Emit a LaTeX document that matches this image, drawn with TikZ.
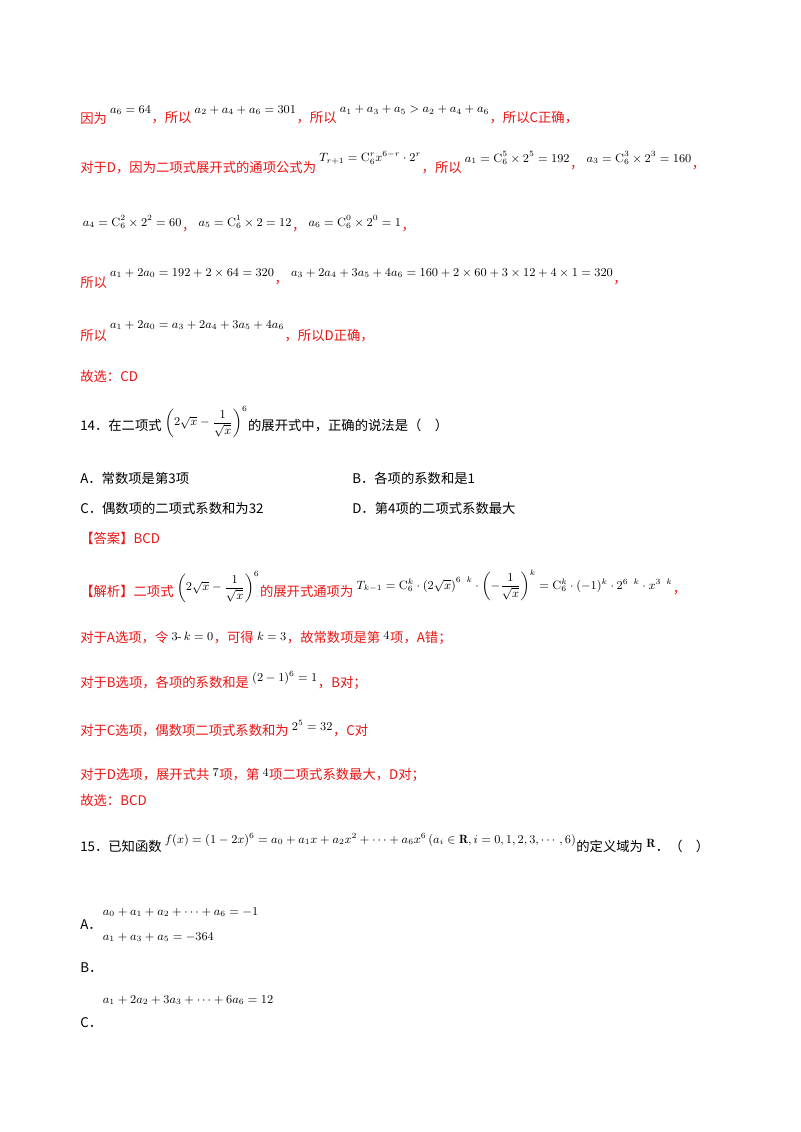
\documentclass[tikz,border=0pt]{standalone}
\usepackage{amsmath,amssymb}
\usepackage{fontspec}
\newfontfamily\cjk{Noto Sans CJK SC}
\definecolor{ans}{RGB}{235,20,20}
\begin{document}
\begin{tikzpicture}[x=0.75pt,y=-0.75pt,
  t/.style={anchor=west,inner sep=0pt,font=\cjk\fontsize{10}{12}\selectfont},
  r/.style={t,text=ans},
  m/.style={anchor=west,inner sep=0pt,font=\small,xshift=2pt}]
\useasboundingbox[fill=white] (0,0) rectangle (800,1132);
% line 1
\node[r] (l1a) at (80,118) {因为};
\node[m] (l1b) at (l1a.east |- 0,110) {$a_6=64$};
\node[r] (l1c) at (l1b.east |- 0,118) {，所以};
\node[m] (l1d) at (l1c.east |- 0,110) {$a_2+a_4+a_6=301$};
\node[r] (l1e) at (l1d.east |- 0,118) {，所以};
\node[m] (l1f) at (l1e.east |- 0,110) {$a_1+a_3+a_5>a_2+a_4+a_6$};
\node[r] (l1g) at (l1f.east |- 0,118) {，所以C正确，};
% line 2
\node[r] (l2a) at (80,168) {对于D，因为二项式展开式的通项公式为};
\node[m] (l2b) at (l2a.east |- 0,158) {$T_{r+1}=\mathrm{C}_6^r x^{6-r}\cdot 2^r$};
\node[r] (l2c) at (l2b.east |- 0,168) {，所以};
\node[m] (l2d) at (l2c.east |- 0,158) {$a_1=\mathrm{C}_6^5\times2^5=192$};
\node[r] (l2e) at (l2d.east |- 0,168) {，};
\node[m] (l2f) at (l2e.east |- 0,158) {$a_3=\mathrm{C}_6^3\times2^3=160$};
\node[r] (l2g) at (l2f.east |- 0,168) {，};
% line 3
\node[m,xshift=0pt] (l3a) at (80,222) {$a_4=\mathrm{C}_6^2\times2^2=60$};
\node[r] (l3b) at (l3a.east |- 0,230) {，};
\node[m] (l3c) at (l3b.east |- 0,222) {$a_5=\mathrm{C}_6^1\times2=12$};
\node[r] (l3d) at (l3c.east |- 0,230) {，};
\node[m] (l3e) at (l3d.east |- 0,222) {$a_6=\mathrm{C}_6^0\times2^0=1$};
\node[r] (l3f) at (l3e.east |- 0,230) {，};
% line 4
\node[r] (l4a) at (80,283) {所以};
\node[m] (l4b) at (l4a.east |- 0,273) {$a_1+2a_0=192+2\times64=320$};
\node[r] (l4c) at (l4b.east |- 0,283) {，};
\node[m] (l4d) at (l4c.east |- 0,273) {$a_3+2a_4+3a_5+4a_6=160+2\times60+3\times12+4\times1=320$};
\node[r] (l4e) at (l4d.east |- 0,283) {，};
% line 5
\node[r] (l5a) at (80,336) {所以};
\node[m] (l5b) at (l5a.east |- 0,325) {$a_1+2a_0=a_3+2a_4+3a_5+4a_6$};
\node[r] (l5c) at (l5b.east |- 0,336) {，所以D正确，};
\node[r] (l6) at (80,376) {故选：CD};
% Q14
\node[t] (q14a) at (80,425) {14．在二项式};
\node[m] (q14b) at (q14a.east |- 0,422) {$\left(2\sqrt{x}-\dfrac{1}{\sqrt{x}}\right)^{6}$};
\node[t] (q14c) at (q14b.east |- 0,425) {的展开式中，正确的说法是（\quad）};
\node[t] (oa) at (80,478) {A．常数项是第3项};
\node[t] (ob) at (352,478) {B．各项的系数和是1};
\node[t] (oc) at (80,508) {C．偶数项的二项式系数和为32};
\node[t] (od) at (352,508) {D．第4项的二项式系数最大};
\node[r] (an) at (80,538) {【答案】BCD};
\node[r] (j1) at (80,591) {【解析】二项式};
\node[m] (j2) at (j1.east |- 0,587) {$\left(2\sqrt{x}-\dfrac{1}{\sqrt{x}}\right)^{6}$};
\node[r] (j3) at (j2.east |- 0,591) {的展开式通项为};
\node[m] (j4) at (j3.east |- 0,585) {$T_{k-1}=\mathrm{C}_6^k\cdot\left(2\sqrt{x}\right)^{6\ \,k}\cdot\left(-\dfrac{1}{\sqrt{x}}\right)^{k}=\mathrm{C}_6^k\cdot(-1)^k\cdot2^{6\ \,k}\cdot x^{3\ \,k}$};
\node[r] (j5) at (j4.east |- 0,593) {，};
\node[r] (k1) at (80,638) {对于A选项，令};
\node[m] (k2) at (k1.east |- 0,636) {$3\text{-}\,k=0$};
\node[r] (k3) at (k2.east |- 0,638) {，可得};
\node[m] (k4) at (k3.east |- 0,636) {$k=3$};
\node[r] (k5) at (k4.east |- 0,638) {，故常数项是第};
\node[m] (k6) at (k5.east |- 0,636) {$4$};
\node[r] (k7) at (k6.east |- 0,638) {项，A错；};
\node[r] (b1) at (80,683) {对于B选项，各项的系数和是};
\node[m] (b2) at (b1.east |- 0,678) {$(2-1)^6=1$};
\node[r] (b3) at (b2.east |- 0,683) {，B对；};
\node[r] (c1) at (80,731) {对于C选项，偶数项二项式系数和为};
\node[m] (c2) at (c1.east |- 0,725) {$2^5=32$};
\node[r] (c3) at (c2.east |- 0,731) {，C对};
\node[r] (d1) at (80,775) {对于D选项，展开式共};
\node[m] (d2) at (d1.east |- 0,773) {$7$};
\node[r] (d3) at (d2.east |- 0,775) {项，第};
\node[m] (d4) at (d3.east |- 0,773) {$4$};
\node[r] (d5) at (d4.east |- 0,775) {项二项式系数最大，D对；};
\node[r] (g) at (80,800) {故选：BCD};
% Q15
\node[t] (q15a) at (80,846) {15．已知函数};
\node[m] (q15b) at (q15a.east |- 0,840) {$f(x)=(1-2x)^6=a_0+a_1x+a_2x^2+\cdots+a_6x^6\left(a_i\in\mathbf{R},i=0,1,2,3,\cdots,6\right)$};
\node[t] (q15c) at (q15b.east |- 0,846) {的定义域为};
\node[m] (q15d) at (q15c.east |- 0,843) {$\mathbf{R}$};
\node[t] (q15e) at (q15d.east |- 0,846) {．（\quad）};
\node[t] (pa) at (80,925) {A．};
\node[m,xshift=0pt] (pa2) at (100,912) {$a_0+a_1+a_2+\cdots+a_6=-1$};
\node[t] (pb) at (80,968) {B．};
\node[m,xshift=0pt] (pb2) at (100,937) {$a_1+a_3+a_5=-364$};
\node[t] (pc) at (80,1023) {C．};
\node[m,xshift=0pt] (pc2) at (100,1000) {$a_1+2a_2+3a_3+\cdots+6a_6=12$};
\end{tikzpicture}
\end{document}
